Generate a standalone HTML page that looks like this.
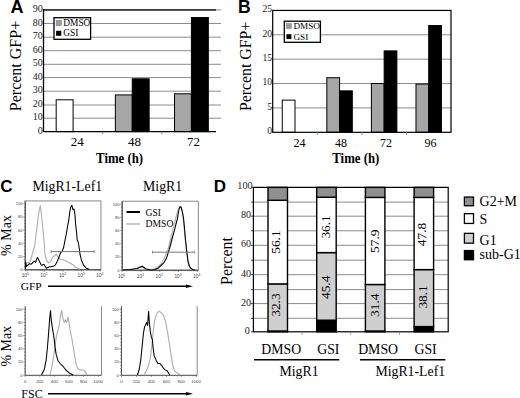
<!DOCTYPE html>
<html><head><meta charset="utf-8"><style>
html,body{margin:0;padding:0;background:#fff;overflow:hidden;}
svg{display:block;}
</style></head><body>
<svg width="520" height="398" viewBox="0 0 520 398">
<rect width="520" height="398" fill="#fff"/>
<text x="10.6" y="12.7" font-family="&quot;Liberation Sans&quot;, sans-serif" font-weight="bold" font-size="18">A</text>
<line x1="43.5" y1="118.20" x2="221.0" y2="118.20" stroke="#8c8c8c" stroke-width="1"/>
<line x1="43.5" y1="105.00" x2="221.0" y2="105.00" stroke="#8c8c8c" stroke-width="1"/>
<line x1="43.5" y1="91.20" x2="221.0" y2="91.20" stroke="#8c8c8c" stroke-width="1"/>
<line x1="43.5" y1="77.60" x2="221.0" y2="77.60" stroke="#8c8c8c" stroke-width="1"/>
<line x1="43.5" y1="64.30" x2="221.0" y2="64.30" stroke="#8c8c8c" stroke-width="1"/>
<line x1="43.5" y1="50.70" x2="221.0" y2="50.70" stroke="#8c8c8c" stroke-width="1"/>
<line x1="43.5" y1="37.20" x2="221.0" y2="37.20" stroke="#8c8c8c" stroke-width="1"/>
<line x1="43.5" y1="23.50" x2="221.0" y2="23.50" stroke="#8c8c8c" stroke-width="1"/>
<line x1="43.5" y1="9.90" x2="221.0" y2="9.90" stroke="#8c8c8c" stroke-width="1"/>
<line x1="43.5" y1="9.90" x2="216.0" y2="9.90" stroke="#383838" stroke-width="1.7"/>
<rect x="56.18" y="99.80" width="16.90" height="31.80" fill="#fff" stroke="#000" stroke-width="1"/>
<rect x="115.35" y="94.90" width="16.90" height="36.70" fill="#a6a6a6" stroke="#000" stroke-width="1"/>
<rect x="132.25" y="78.80" width="16.90" height="52.80" fill="#000" stroke="#000" stroke-width="1"/>
<rect x="174.51" y="93.80" width="16.90" height="37.80" fill="#a6a6a6" stroke="#000" stroke-width="1"/>
<rect x="191.42" y="17.50" width="16.90" height="114.10" fill="#000" stroke="#000" stroke-width="1"/>
<line x1="43.5" y1="9.10" x2="43.5" y2="132.10" stroke="#000" stroke-width="1.3"/>
<line x1="43.5" y1="131.60" x2="216.0" y2="131.60" stroke="#000" stroke-width="1.3"/>
<line x1="102.67" y1="131.60" x2="102.67" y2="134.10" stroke="#888" stroke-width="1"/>
<line x1="161.83" y1="131.60" x2="161.83" y2="134.10" stroke="#888" stroke-width="1"/>
<text x="42.8" y="133.60" font-family="&quot;Liberation Serif&quot;, serif" font-size="10" text-anchor="end" fill="#222">0</text>
<text x="42.8" y="120.20" font-family="&quot;Liberation Serif&quot;, serif" font-size="10" text-anchor="end" fill="#222">10</text>
<text x="42.8" y="107.00" font-family="&quot;Liberation Serif&quot;, serif" font-size="10" text-anchor="end" fill="#222">20</text>
<text x="42.8" y="93.20" font-family="&quot;Liberation Serif&quot;, serif" font-size="10" text-anchor="end" fill="#222">30</text>
<text x="42.8" y="79.60" font-family="&quot;Liberation Serif&quot;, serif" font-size="10" text-anchor="end" fill="#222">40</text>
<text x="42.8" y="66.30" font-family="&quot;Liberation Serif&quot;, serif" font-size="10" text-anchor="end" fill="#222">50</text>
<text x="42.8" y="52.70" font-family="&quot;Liberation Serif&quot;, serif" font-size="10" text-anchor="end" fill="#222">60</text>
<text x="42.8" y="39.20" font-family="&quot;Liberation Serif&quot;, serif" font-size="10" text-anchor="end" fill="#222">70</text>
<text x="42.8" y="25.50" font-family="&quot;Liberation Serif&quot;, serif" font-size="10" text-anchor="end" fill="#222">80</text>
<text x="42.8" y="11.90" font-family="&quot;Liberation Serif&quot;, serif" font-size="10" text-anchor="end" fill="#222">90</text>
<text x="77.2" y="146" font-family="&quot;Liberation Serif&quot;, serif" font-size="13" text-anchor="middle">24</text>
<text x="134.5" y="146" font-family="&quot;Liberation Serif&quot;, serif" font-size="13" text-anchor="middle">48</text>
<text x="193.5" y="146" font-family="&quot;Liberation Serif&quot;, serif" font-size="13" text-anchor="middle">72</text>
<text x="119.6" y="163" font-family="&quot;Liberation Serif&quot;, serif" font-size="14" font-weight="bold" text-anchor="middle" textLength="47" lengthAdjust="spacingAndGlyphs">Time (h)</text>
<text transform="translate(21,66) rotate(-90)" font-family="&quot;Liberation Serif&quot;, serif" font-size="16" text-anchor="middle">Percent GFP+</text>
<rect x="54.0" y="17.7" width="36.6" height="21.6" fill="#fff" stroke="#000" stroke-width="1.3"/>
<rect x="56.1" y="20.4" width="5.2" height="5.3" fill="#9c9c9c" stroke="#777" stroke-width="0.5"/>
<rect x="56.1" y="30.8" width="5.2" height="5.0" fill="#000"/>
<text x="63.3" y="25.8" font-family="&quot;Liberation Serif&quot;, serif" font-size="9.4">DMSO</text>
<text x="63.3" y="36.4" font-family="&quot;Liberation Serif&quot;, serif" font-size="9.4">GSI</text>
<text x="238.0" y="12.6" font-family="&quot;Liberation Sans&quot;, sans-serif" font-weight="bold" font-size="17.5">B</text>
<line x1="272.7" y1="107.93" x2="451.0" y2="107.93" stroke="#8c8c8c" stroke-width="1"/>
<line x1="272.7" y1="83.55" x2="451.0" y2="83.55" stroke="#8c8c8c" stroke-width="1"/>
<line x1="272.7" y1="59.18" x2="451.0" y2="59.18" stroke="#8c8c8c" stroke-width="1"/>
<line x1="272.7" y1="34.80" x2="451.0" y2="34.80" stroke="#8c8c8c" stroke-width="1"/>
<rect x="282.25" y="100.13" width="12.74" height="32.17" fill="#fff" stroke="#000" stroke-width="1"/>
<rect x="326.83" y="77.70" width="12.74" height="54.60" fill="#a6a6a6" stroke="#000" stroke-width="1"/>
<rect x="339.56" y="90.86" width="12.74" height="41.44" fill="#000" stroke="#000" stroke-width="1"/>
<rect x="371.40" y="83.55" width="12.74" height="48.75" fill="#a6a6a6" stroke="#000" stroke-width="1"/>
<rect x="384.14" y="50.89" width="12.74" height="81.41" fill="#000" stroke="#000" stroke-width="1"/>
<rect x="415.98" y="84.04" width="12.74" height="48.26" fill="#a6a6a6" stroke="#000" stroke-width="1"/>
<rect x="428.71" y="25.54" width="12.74" height="106.76" fill="#000" stroke="#000" stroke-width="1"/>
<rect x="272.7" y="10.43" width="178.30" height="121.88" fill="none" stroke="#000" stroke-width="1.2"/>
<line x1="317.27" y1="132.30" x2="317.27" y2="134.80" stroke="#888" stroke-width="1"/>
<line x1="361.85" y1="132.30" x2="361.85" y2="134.80" stroke="#888" stroke-width="1"/>
<line x1="406.43" y1="132.30" x2="406.43" y2="134.80" stroke="#888" stroke-width="1"/>
<text x="272.1" y="134.20" font-family="&quot;Liberation Serif&quot;, serif" font-size="9.7" text-anchor="end" fill="#222">0</text>
<text x="272.1" y="109.83" font-family="&quot;Liberation Serif&quot;, serif" font-size="9.7" text-anchor="end" fill="#222">5</text>
<text x="272.1" y="85.45" font-family="&quot;Liberation Serif&quot;, serif" font-size="9.7" text-anchor="end" fill="#222">10</text>
<text x="272.1" y="61.08" font-family="&quot;Liberation Serif&quot;, serif" font-size="9.7" text-anchor="end" fill="#222">15</text>
<text x="272.1" y="36.70" font-family="&quot;Liberation Serif&quot;, serif" font-size="9.7" text-anchor="end" fill="#222">20</text>
<text x="272.1" y="12.33" font-family="&quot;Liberation Serif&quot;, serif" font-size="9.7" text-anchor="end" fill="#222">25</text>
<text x="299.4" y="146.5" font-family="&quot;Liberation Serif&quot;, serif" font-size="12" text-anchor="middle">24</text>
<text x="340.9" y="146.5" font-family="&quot;Liberation Serif&quot;, serif" font-size="12" text-anchor="middle">48</text>
<text x="386" y="146.5" font-family="&quot;Liberation Serif&quot;, serif" font-size="12" text-anchor="middle">72</text>
<text x="430.4" y="146.5" font-family="&quot;Liberation Serif&quot;, serif" font-size="12" text-anchor="middle">96</text>
<text x="355.8" y="162.6" font-family="&quot;Liberation Serif&quot;, serif" font-size="14" font-weight="bold" text-anchor="middle" textLength="47" lengthAdjust="spacingAndGlyphs">Time (h)</text>
<text transform="translate(250.5,66.4) rotate(-90)" font-family="&quot;Liberation Serif&quot;, serif" font-size="15.8" text-anchor="middle">Percent GFP+</text>
<rect x="284.3" y="21.2" width="36.1" height="21.1" fill="#fff" stroke="#000" stroke-width="1.3"/>
<rect x="286.4" y="23.6" width="5" height="5.1" fill="#9c9c9c" stroke="#777" stroke-width="0.5"/>
<rect x="286.4" y="34.2" width="5" height="4.9" fill="#000"/>
<text x="293.4" y="28.9" font-family="&quot;Liberation Serif&quot;, serif" font-size="9.2">DMSO</text>
<text x="293.4" y="39.6" font-family="&quot;Liberation Serif&quot;, serif" font-size="9.2">GSI</text>
<text x="213.8" y="191.8" font-family="&quot;Liberation Sans&quot;, sans-serif" font-weight="bold" font-size="17">D</text>
<line x1="253.4" y1="318.30" x2="448.2" y2="318.30" stroke="#8c8c8c" stroke-width="1"/>
<line x1="253.4" y1="303.60" x2="448.2" y2="303.60" stroke="#8c8c8c" stroke-width="1"/>
<line x1="253.4" y1="289.60" x2="448.2" y2="289.60" stroke="#8c8c8c" stroke-width="1"/>
<line x1="253.4" y1="274.70" x2="448.2" y2="274.70" stroke="#8c8c8c" stroke-width="1"/>
<line x1="253.4" y1="260.20" x2="448.2" y2="260.20" stroke="#8c8c8c" stroke-width="1"/>
<line x1="253.4" y1="245.30" x2="448.2" y2="245.30" stroke="#8c8c8c" stroke-width="1"/>
<line x1="253.4" y1="230.80" x2="448.2" y2="230.80" stroke="#8c8c8c" stroke-width="1"/>
<line x1="253.4" y1="216.20" x2="448.2" y2="216.20" stroke="#8c8c8c" stroke-width="1"/>
<line x1="253.4" y1="202.10" x2="448.2" y2="202.10" stroke="#8c8c8c" stroke-width="1"/>
<line x1="253.4" y1="187.40" x2="448.2" y2="187.40" stroke="#8c8c8c" stroke-width="1"/>
<rect x="268.01" y="331.00" width="19.48" height="0.80" fill="#000" stroke="#000" stroke-width="1.4"/>
<rect x="268.01" y="283.90" width="19.48" height="47.10" fill="#cfcfcf" stroke="#000" stroke-width="1.4"/>
<rect x="268.01" y="200.30" width="19.48" height="83.60" fill="#fff" stroke="#000" stroke-width="1.4"/>
<rect x="268.01" y="187.40" width="19.48" height="12.90" fill="#909090" stroke="#000" stroke-width="1.4"/>
<text transform="translate(280.15,305.10) rotate(-90)" font-family="&quot;Liberation Serif&quot;, serif" font-size="13.4" text-anchor="middle">32.3</text>
<text transform="translate(279.95,242.10) rotate(-90)" font-family="&quot;Liberation Serif&quot;, serif" font-size="13.4" text-anchor="middle">56.1</text>
<rect x="316.71" y="320.20" width="19.48" height="11.60" fill="#000" stroke="#000" stroke-width="1.4"/>
<rect x="316.71" y="252.60" width="19.48" height="67.60" fill="#cfcfcf" stroke="#000" stroke-width="1.4"/>
<rect x="316.71" y="197.20" width="19.48" height="55.40" fill="#fff" stroke="#000" stroke-width="1.4"/>
<rect x="316.71" y="187.40" width="19.48" height="9.80" fill="#909090" stroke="#000" stroke-width="1.4"/>
<text transform="translate(329.65,287.30) rotate(-90)" font-family="&quot;Liberation Serif&quot;, serif" font-size="13.4" text-anchor="middle">45.4</text>
<text transform="translate(329.65,226.90) rotate(-90)" font-family="&quot;Liberation Serif&quot;, serif" font-size="13.4" text-anchor="middle">36.1</text>
<rect x="365.41" y="331.00" width="19.48" height="0.80" fill="#000" stroke="#000" stroke-width="1.4"/>
<rect x="365.41" y="284.50" width="19.48" height="46.50" fill="#cfcfcf" stroke="#000" stroke-width="1.4"/>
<rect x="365.41" y="197.40" width="19.48" height="87.10" fill="#fff" stroke="#000" stroke-width="1.4"/>
<rect x="365.41" y="187.40" width="19.48" height="10.00" fill="#909090" stroke="#000" stroke-width="1.4"/>
<text transform="translate(378.65,305.20) rotate(-90)" font-family="&quot;Liberation Serif&quot;, serif" font-size="13.4" text-anchor="middle">31.4</text>
<text transform="translate(378.85,241.25) rotate(-90)" font-family="&quot;Liberation Serif&quot;, serif" font-size="13.4" text-anchor="middle">57.9</text>
<rect x="414.11" y="326.60" width="19.48" height="5.20" fill="#000" stroke="#000" stroke-width="1.4"/>
<rect x="414.11" y="269.60" width="19.48" height="57.00" fill="#cfcfcf" stroke="#000" stroke-width="1.4"/>
<rect x="414.11" y="197.40" width="19.48" height="72.20" fill="#fff" stroke="#000" stroke-width="1.4"/>
<rect x="414.11" y="187.40" width="19.48" height="10.00" fill="#909090" stroke="#000" stroke-width="1.4"/>
<text transform="translate(426.65,296.90) rotate(-90)" font-family="&quot;Liberation Serif&quot;, serif" font-size="13.4" text-anchor="middle">38.1</text>
<text transform="translate(426.35,234.50) rotate(-90)" font-family="&quot;Liberation Serif&quot;, serif" font-size="13.4" text-anchor="middle">47.8</text>
<rect x="253.4" y="187.40" width="194.80" height="144.40" fill="none" stroke="#000" stroke-width="1.2"/>
<line x1="302.10" y1="331.80" x2="302.10" y2="334.30" stroke="#888" stroke-width="1"/>
<line x1="350.80" y1="331.80" x2="350.80" y2="334.30" stroke="#888" stroke-width="1"/>
<line x1="399.50" y1="331.80" x2="399.50" y2="334.30" stroke="#888" stroke-width="1"/>
<text x="249.8" y="333.80" font-family="&quot;Liberation Serif&quot;, serif" font-size="10.2" text-anchor="end" fill="#222">0</text>
<text x="251.1" y="305.60" font-family="&quot;Liberation Serif&quot;, serif" font-size="10.2" text-anchor="end" fill="#222">20</text>
<text x="251.1" y="276.70" font-family="&quot;Liberation Serif&quot;, serif" font-size="10.2" text-anchor="end" fill="#222">40</text>
<text x="251.1" y="247.30" font-family="&quot;Liberation Serif&quot;, serif" font-size="10.2" text-anchor="end" fill="#222">60</text>
<text x="251.1" y="218.20" font-family="&quot;Liberation Serif&quot;, serif" font-size="10.2" text-anchor="end" fill="#222">80</text>
<text x="252.6" y="189.40" font-family="&quot;Liberation Serif&quot;, serif" font-size="10.2" text-anchor="end" fill="#222">100</text>
<line x1="251.1" y1="331.80" x2="253.4" y2="331.80" stroke="#333" stroke-width="1"/>
<line x1="251.1" y1="318.30" x2="253.4" y2="318.30" stroke="#333" stroke-width="1"/>
<line x1="251.1" y1="303.60" x2="253.4" y2="303.60" stroke="#333" stroke-width="1"/>
<line x1="251.1" y1="289.60" x2="253.4" y2="289.60" stroke="#333" stroke-width="1"/>
<line x1="251.1" y1="274.70" x2="253.4" y2="274.70" stroke="#333" stroke-width="1"/>
<line x1="251.1" y1="260.20" x2="253.4" y2="260.20" stroke="#333" stroke-width="1"/>
<line x1="251.1" y1="245.30" x2="253.4" y2="245.30" stroke="#333" stroke-width="1"/>
<line x1="251.1" y1="230.80" x2="253.4" y2="230.80" stroke="#333" stroke-width="1"/>
<line x1="251.1" y1="216.20" x2="253.4" y2="216.20" stroke="#333" stroke-width="1"/>
<line x1="251.1" y1="202.10" x2="253.4" y2="202.10" stroke="#333" stroke-width="1"/>
<line x1="251.1" y1="187.40" x2="253.4" y2="187.40" stroke="#333" stroke-width="1"/>
<text transform="translate(232,261) rotate(-90)" font-family="&quot;Liberation Serif&quot;, serif" font-size="16" text-anchor="middle">Percent</text>
<rect x="464.4" y="197.05" width="9.1" height="8.70" fill="#909090" stroke="#000" stroke-width="1.3"/>
<text x="479.6" y="206.20" font-family="&quot;Liberation Serif&quot;, serif" font-size="14">G2+M</text>
<rect x="464.4" y="213.65" width="9.1" height="9.80" fill="#fff" stroke="#000" stroke-width="1.3"/>
<text x="479.6" y="223.70" font-family="&quot;Liberation Serif&quot;, serif" font-size="14">S</text>
<rect x="464.4" y="233.35" width="9.1" height="9.80" fill="#cfcfcf" stroke="#000" stroke-width="1.3"/>
<text x="479.6" y="244.80" font-family="&quot;Liberation Serif&quot;, serif" font-size="14">G1</text>
<rect x="464.4" y="250.55" width="9.1" height="9.20" fill="#000" stroke="#000" stroke-width="1.3"/>
<text x="479.6" y="258.80" font-family="&quot;Liberation Serif&quot;, serif" font-size="14">sub-G1</text>
<text x="281.2" y="353.7" font-family="&quot;Liberation Serif&quot;, serif" font-size="13.8" text-anchor="middle">DMSO</text>
<text x="328.3" y="353.7" font-family="&quot;Liberation Serif&quot;, serif" font-size="13.8" text-anchor="middle">GSI</text>
<text x="378.1" y="353.7" font-family="&quot;Liberation Serif&quot;, serif" font-size="13.8" text-anchor="middle">DMSO</text>
<text x="425.6" y="353.7" font-family="&quot;Liberation Serif&quot;, serif" font-size="13.8" text-anchor="middle">GSI</text>
<line x1="254" y1="359.7" x2="339.3" y2="359.7" stroke="#000" stroke-width="1.5"/>
<line x1="360" y1="359.7" x2="445.4" y2="359.7" stroke="#000" stroke-width="1.5"/>
<text x="299" y="375.7" font-family="&quot;Liberation Serif&quot;, serif" font-size="13.8" text-anchor="middle">MigR1</text>
<text x="410.3" y="375.7" font-family="&quot;Liberation Serif&quot;, serif" font-size="13.8" text-anchor="middle">MigR1-Lef1</text>
<text x="0.3" y="192.3" font-family="&quot;Liberation Sans&quot;, sans-serif" font-weight="bold" font-size="17">C</text>
<text x="32.4" y="190.8" font-family="&quot;Liberation Serif&quot;, serif" font-size="13.8">MigR1-Lef1</text>
<text x="143.1" y="190.8" font-family="&quot;Liberation Serif&quot;, serif" font-size="13.8">MigR1</text>
<text transform="translate(11.2,235.5) rotate(-90)" font-family="&quot;Liberation Serif&quot;, serif" font-size="14" text-anchor="middle">% Max</text>
<text transform="translate(11,346.2) rotate(-90)" font-family="&quot;Liberation Serif&quot;, serif" font-size="14" text-anchor="middle">% Max</text>
<text x="20.8" y="290" font-family="&quot;Liberation Serif&quot;, serif" font-size="11.4">GFP</text>
<text x="21.3" y="397.6" font-family="&quot;Liberation Serif&quot;, serif" font-size="12">FSC</text>
<line x1="48" y1="286.3" x2="187" y2="286.3" stroke="#000" stroke-width="1.6"/>
<path d="M186 284.5 L193 286.3 L186 288.1 Z" fill="#000"/>
<line x1="48" y1="393.7" x2="187" y2="393.7" stroke="#000" stroke-width="1.6"/>
<path d="M186 391.9 L193 393.7 L186 395.5 Z" fill="#000"/>
<rect x="25.2" y="200.9" width="75.7" height="68.9" fill="none" stroke="#8a8a8a" stroke-width="1"/>
<line x1="25.2" y1="200.9" x2="25.2" y2="269.8" stroke="#333" stroke-width="0.9"/>
<line x1="25.2" y1="269.8" x2="100.9" y2="269.8" stroke="#333" stroke-width="0.9"/>
<line x1="23.2" y1="269.80" x2="25.2" y2="269.80" stroke="#555" stroke-width="0.6"/>
<text x="22.599999999999998" y="271.20" font-family="&quot;Liberation Sans&quot;, sans-serif" font-size="4.1" text-anchor="end" fill="#444">0</text>
<line x1="24.0" y1="266.50" x2="25.2" y2="266.50" stroke="#555" stroke-width="0.6"/>
<line x1="24.0" y1="263.20" x2="25.2" y2="263.20" stroke="#555" stroke-width="0.6"/>
<line x1="24.0" y1="259.90" x2="25.2" y2="259.90" stroke="#555" stroke-width="0.6"/>
<line x1="23.2" y1="256.60" x2="25.2" y2="256.60" stroke="#555" stroke-width="0.6"/>
<text x="22.599999999999998" y="258.00" font-family="&quot;Liberation Sans&quot;, sans-serif" font-size="4.1" text-anchor="end" fill="#444">20</text>
<line x1="24.0" y1="253.30" x2="25.2" y2="253.30" stroke="#555" stroke-width="0.6"/>
<line x1="24.0" y1="250.00" x2="25.2" y2="250.00" stroke="#555" stroke-width="0.6"/>
<line x1="24.0" y1="246.70" x2="25.2" y2="246.70" stroke="#555" stroke-width="0.6"/>
<line x1="23.2" y1="243.40" x2="25.2" y2="243.40" stroke="#555" stroke-width="0.6"/>
<text x="22.599999999999998" y="244.80" font-family="&quot;Liberation Sans&quot;, sans-serif" font-size="4.1" text-anchor="end" fill="#444">40</text>
<line x1="24.0" y1="240.10" x2="25.2" y2="240.10" stroke="#555" stroke-width="0.6"/>
<line x1="24.0" y1="236.80" x2="25.2" y2="236.80" stroke="#555" stroke-width="0.6"/>
<line x1="24.0" y1="233.50" x2="25.2" y2="233.50" stroke="#555" stroke-width="0.6"/>
<line x1="23.2" y1="230.20" x2="25.2" y2="230.20" stroke="#555" stroke-width="0.6"/>
<text x="22.599999999999998" y="231.60" font-family="&quot;Liberation Sans&quot;, sans-serif" font-size="4.1" text-anchor="end" fill="#444">60</text>
<line x1="24.0" y1="226.90" x2="25.2" y2="226.90" stroke="#555" stroke-width="0.6"/>
<line x1="24.0" y1="223.60" x2="25.2" y2="223.60" stroke="#555" stroke-width="0.6"/>
<line x1="24.0" y1="220.30" x2="25.2" y2="220.30" stroke="#555" stroke-width="0.6"/>
<line x1="23.2" y1="217.00" x2="25.2" y2="217.00" stroke="#555" stroke-width="0.6"/>
<text x="22.599999999999998" y="218.40" font-family="&quot;Liberation Sans&quot;, sans-serif" font-size="4.1" text-anchor="end" fill="#444">80</text>
<line x1="24.0" y1="213.70" x2="25.2" y2="213.70" stroke="#555" stroke-width="0.6"/>
<line x1="24.0" y1="210.40" x2="25.2" y2="210.40" stroke="#555" stroke-width="0.6"/>
<line x1="24.0" y1="207.10" x2="25.2" y2="207.10" stroke="#555" stroke-width="0.6"/>
<line x1="23.2" y1="203.80" x2="25.2" y2="203.80" stroke="#555" stroke-width="0.6"/>
<text x="22.599999999999998" y="205.20" font-family="&quot;Liberation Sans&quot;, sans-serif" font-size="4.1" text-anchor="end" fill="#444">100</text>
<line x1="25.90" y1="269.8" x2="25.90" y2="271.6" stroke="#555" stroke-width="0.6"/>
<text x="25.30" y="277.2" font-family="&quot;Liberation Sans&quot;, sans-serif" font-size="4.8" text-anchor="middle" fill="#444">10<tspan font-size="3.4" dy="-1.8">0</tspan></text>
<line x1="31.50" y1="269.8" x2="31.50" y2="270.90000000000003" stroke="#666" stroke-width="0.5"/>
<line x1="34.77" y1="269.8" x2="34.77" y2="270.90000000000003" stroke="#666" stroke-width="0.5"/>
<line x1="37.10" y1="269.8" x2="37.10" y2="270.90000000000003" stroke="#666" stroke-width="0.5"/>
<line x1="38.90" y1="269.8" x2="38.90" y2="270.90000000000003" stroke="#666" stroke-width="0.5"/>
<line x1="40.37" y1="269.8" x2="40.37" y2="270.90000000000003" stroke="#666" stroke-width="0.5"/>
<line x1="41.62" y1="269.8" x2="41.62" y2="270.90000000000003" stroke="#666" stroke-width="0.5"/>
<line x1="42.70" y1="269.8" x2="42.70" y2="270.90000000000003" stroke="#666" stroke-width="0.5"/>
<line x1="43.65" y1="269.8" x2="43.65" y2="270.90000000000003" stroke="#666" stroke-width="0.5"/>
<line x1="44.50" y1="269.8" x2="44.50" y2="271.6" stroke="#555" stroke-width="0.6"/>
<text x="43.90" y="277.2" font-family="&quot;Liberation Sans&quot;, sans-serif" font-size="4.8" text-anchor="middle" fill="#444">10<tspan font-size="3.4" dy="-1.8">1</tspan></text>
<line x1="50.10" y1="269.8" x2="50.10" y2="270.90000000000003" stroke="#666" stroke-width="0.5"/>
<line x1="53.37" y1="269.8" x2="53.37" y2="270.90000000000003" stroke="#666" stroke-width="0.5"/>
<line x1="55.70" y1="269.8" x2="55.70" y2="270.90000000000003" stroke="#666" stroke-width="0.5"/>
<line x1="57.50" y1="269.8" x2="57.50" y2="270.90000000000003" stroke="#666" stroke-width="0.5"/>
<line x1="58.97" y1="269.8" x2="58.97" y2="270.90000000000003" stroke="#666" stroke-width="0.5"/>
<line x1="60.22" y1="269.8" x2="60.22" y2="270.90000000000003" stroke="#666" stroke-width="0.5"/>
<line x1="61.30" y1="269.8" x2="61.30" y2="270.90000000000003" stroke="#666" stroke-width="0.5"/>
<line x1="62.25" y1="269.8" x2="62.25" y2="270.90000000000003" stroke="#666" stroke-width="0.5"/>
<line x1="63.10" y1="269.8" x2="63.10" y2="271.6" stroke="#555" stroke-width="0.6"/>
<text x="62.50" y="277.2" font-family="&quot;Liberation Sans&quot;, sans-serif" font-size="4.8" text-anchor="middle" fill="#444">10<tspan font-size="3.4" dy="-1.8">2</tspan></text>
<line x1="68.70" y1="269.8" x2="68.70" y2="270.90000000000003" stroke="#666" stroke-width="0.5"/>
<line x1="71.97" y1="269.8" x2="71.97" y2="270.90000000000003" stroke="#666" stroke-width="0.5"/>
<line x1="74.30" y1="269.8" x2="74.30" y2="270.90000000000003" stroke="#666" stroke-width="0.5"/>
<line x1="76.10" y1="269.8" x2="76.10" y2="270.90000000000003" stroke="#666" stroke-width="0.5"/>
<line x1="77.57" y1="269.8" x2="77.57" y2="270.90000000000003" stroke="#666" stroke-width="0.5"/>
<line x1="78.82" y1="269.8" x2="78.82" y2="270.90000000000003" stroke="#666" stroke-width="0.5"/>
<line x1="79.90" y1="269.8" x2="79.90" y2="270.90000000000003" stroke="#666" stroke-width="0.5"/>
<line x1="80.85" y1="269.8" x2="80.85" y2="270.90000000000003" stroke="#666" stroke-width="0.5"/>
<line x1="81.70" y1="269.8" x2="81.70" y2="271.6" stroke="#555" stroke-width="0.6"/>
<text x="81.10" y="277.2" font-family="&quot;Liberation Sans&quot;, sans-serif" font-size="4.8" text-anchor="middle" fill="#444">10<tspan font-size="3.4" dy="-1.8">3</tspan></text>
<line x1="87.30" y1="269.8" x2="87.30" y2="270.90000000000003" stroke="#666" stroke-width="0.5"/>
<line x1="90.57" y1="269.8" x2="90.57" y2="270.90000000000003" stroke="#666" stroke-width="0.5"/>
<line x1="92.90" y1="269.8" x2="92.90" y2="270.90000000000003" stroke="#666" stroke-width="0.5"/>
<line x1="94.70" y1="269.8" x2="94.70" y2="270.90000000000003" stroke="#666" stroke-width="0.5"/>
<line x1="96.17" y1="269.8" x2="96.17" y2="270.90000000000003" stroke="#666" stroke-width="0.5"/>
<line x1="97.42" y1="269.8" x2="97.42" y2="270.90000000000003" stroke="#666" stroke-width="0.5"/>
<line x1="98.50" y1="269.8" x2="98.50" y2="270.90000000000003" stroke="#666" stroke-width="0.5"/>
<line x1="99.45" y1="269.8" x2="99.45" y2="270.90000000000003" stroke="#666" stroke-width="0.5"/>
<line x1="100.30" y1="269.8" x2="100.30" y2="271.6" stroke="#555" stroke-width="0.6"/>
<text x="99.70" y="277.2" font-family="&quot;Liberation Sans&quot;, sans-serif" font-size="4.8" text-anchor="middle" fill="#444">10<tspan font-size="3.4" dy="-1.8">4</tspan></text>
<rect x="122.2" y="201.2" width="76.10000000000001" height="69.0" fill="none" stroke="#8a8a8a" stroke-width="1"/>
<line x1="122.2" y1="201.2" x2="122.2" y2="270.2" stroke="#333" stroke-width="0.9"/>
<line x1="122.2" y1="270.2" x2="198.3" y2="270.2" stroke="#333" stroke-width="0.9"/>
<line x1="120.2" y1="270.20" x2="122.2" y2="270.20" stroke="#555" stroke-width="0.6"/>
<text x="119.60000000000001" y="271.60" font-family="&quot;Liberation Sans&quot;, sans-serif" font-size="4.1" text-anchor="end" fill="#444">0</text>
<line x1="121.0" y1="266.89" x2="122.2" y2="266.89" stroke="#555" stroke-width="0.6"/>
<line x1="121.0" y1="263.59" x2="122.2" y2="263.59" stroke="#555" stroke-width="0.6"/>
<line x1="121.0" y1="260.28" x2="122.2" y2="260.28" stroke="#555" stroke-width="0.6"/>
<line x1="120.2" y1="256.98" x2="122.2" y2="256.98" stroke="#555" stroke-width="0.6"/>
<text x="119.60000000000001" y="258.38" font-family="&quot;Liberation Sans&quot;, sans-serif" font-size="4.1" text-anchor="end" fill="#444">20</text>
<line x1="121.0" y1="253.67" x2="122.2" y2="253.67" stroke="#555" stroke-width="0.6"/>
<line x1="121.0" y1="250.37" x2="122.2" y2="250.37" stroke="#555" stroke-width="0.6"/>
<line x1="121.0" y1="247.06" x2="122.2" y2="247.06" stroke="#555" stroke-width="0.6"/>
<line x1="120.2" y1="243.76" x2="122.2" y2="243.76" stroke="#555" stroke-width="0.6"/>
<text x="119.60000000000001" y="245.16" font-family="&quot;Liberation Sans&quot;, sans-serif" font-size="4.1" text-anchor="end" fill="#444">40</text>
<line x1="121.0" y1="240.45" x2="122.2" y2="240.45" stroke="#555" stroke-width="0.6"/>
<line x1="121.0" y1="237.15" x2="122.2" y2="237.15" stroke="#555" stroke-width="0.6"/>
<line x1="121.0" y1="233.84" x2="122.2" y2="233.84" stroke="#555" stroke-width="0.6"/>
<line x1="120.2" y1="230.54" x2="122.2" y2="230.54" stroke="#555" stroke-width="0.6"/>
<text x="119.60000000000001" y="231.94" font-family="&quot;Liberation Sans&quot;, sans-serif" font-size="4.1" text-anchor="end" fill="#444">60</text>
<line x1="121.0" y1="227.23" x2="122.2" y2="227.23" stroke="#555" stroke-width="0.6"/>
<line x1="121.0" y1="223.93" x2="122.2" y2="223.93" stroke="#555" stroke-width="0.6"/>
<line x1="121.0" y1="220.62" x2="122.2" y2="220.62" stroke="#555" stroke-width="0.6"/>
<line x1="120.2" y1="217.32" x2="122.2" y2="217.32" stroke="#555" stroke-width="0.6"/>
<text x="119.60000000000001" y="218.72" font-family="&quot;Liberation Sans&quot;, sans-serif" font-size="4.1" text-anchor="end" fill="#444">80</text>
<line x1="121.0" y1="214.01" x2="122.2" y2="214.01" stroke="#555" stroke-width="0.6"/>
<line x1="121.0" y1="210.71" x2="122.2" y2="210.71" stroke="#555" stroke-width="0.6"/>
<line x1="121.0" y1="207.41" x2="122.2" y2="207.41" stroke="#555" stroke-width="0.6"/>
<line x1="120.2" y1="204.10" x2="122.2" y2="204.10" stroke="#555" stroke-width="0.6"/>
<text x="119.60000000000001" y="205.50" font-family="&quot;Liberation Sans&quot;, sans-serif" font-size="4.1" text-anchor="end" fill="#444">100</text>
<line x1="122.20" y1="270.2" x2="122.20" y2="272.0" stroke="#555" stroke-width="0.6"/>
<text x="121.60" y="277.59999999999997" font-family="&quot;Liberation Sans&quot;, sans-serif" font-size="4.8" text-anchor="middle" fill="#444">10<tspan font-size="3.4" dy="-1.8">0</tspan></text>
<line x1="127.86" y1="270.2" x2="127.86" y2="271.3" stroke="#666" stroke-width="0.5"/>
<line x1="131.17" y1="270.2" x2="131.17" y2="271.3" stroke="#666" stroke-width="0.5"/>
<line x1="133.52" y1="270.2" x2="133.52" y2="271.3" stroke="#666" stroke-width="0.5"/>
<line x1="135.34" y1="270.2" x2="135.34" y2="271.3" stroke="#666" stroke-width="0.5"/>
<line x1="136.83" y1="270.2" x2="136.83" y2="271.3" stroke="#666" stroke-width="0.5"/>
<line x1="138.09" y1="270.2" x2="138.09" y2="271.3" stroke="#666" stroke-width="0.5"/>
<line x1="139.18" y1="270.2" x2="139.18" y2="271.3" stroke="#666" stroke-width="0.5"/>
<line x1="140.14" y1="270.2" x2="140.14" y2="271.3" stroke="#666" stroke-width="0.5"/>
<line x1="141.00" y1="270.2" x2="141.00" y2="272.0" stroke="#555" stroke-width="0.6"/>
<text x="140.40" y="277.59999999999997" font-family="&quot;Liberation Sans&quot;, sans-serif" font-size="4.8" text-anchor="middle" fill="#444">10<tspan font-size="3.4" dy="-1.8">1</tspan></text>
<line x1="146.66" y1="270.2" x2="146.66" y2="271.3" stroke="#666" stroke-width="0.5"/>
<line x1="149.97" y1="270.2" x2="149.97" y2="271.3" stroke="#666" stroke-width="0.5"/>
<line x1="152.32" y1="270.2" x2="152.32" y2="271.3" stroke="#666" stroke-width="0.5"/>
<line x1="154.14" y1="270.2" x2="154.14" y2="271.3" stroke="#666" stroke-width="0.5"/>
<line x1="155.63" y1="270.2" x2="155.63" y2="271.3" stroke="#666" stroke-width="0.5"/>
<line x1="156.89" y1="270.2" x2="156.89" y2="271.3" stroke="#666" stroke-width="0.5"/>
<line x1="157.98" y1="270.2" x2="157.98" y2="271.3" stroke="#666" stroke-width="0.5"/>
<line x1="158.94" y1="270.2" x2="158.94" y2="271.3" stroke="#666" stroke-width="0.5"/>
<line x1="159.80" y1="270.2" x2="159.80" y2="272.0" stroke="#555" stroke-width="0.6"/>
<text x="159.20" y="277.59999999999997" font-family="&quot;Liberation Sans&quot;, sans-serif" font-size="4.8" text-anchor="middle" fill="#444">10<tspan font-size="3.4" dy="-1.8">2</tspan></text>
<line x1="165.46" y1="270.2" x2="165.46" y2="271.3" stroke="#666" stroke-width="0.5"/>
<line x1="168.77" y1="270.2" x2="168.77" y2="271.3" stroke="#666" stroke-width="0.5"/>
<line x1="171.12" y1="270.2" x2="171.12" y2="271.3" stroke="#666" stroke-width="0.5"/>
<line x1="172.94" y1="270.2" x2="172.94" y2="271.3" stroke="#666" stroke-width="0.5"/>
<line x1="174.43" y1="270.2" x2="174.43" y2="271.3" stroke="#666" stroke-width="0.5"/>
<line x1="175.69" y1="270.2" x2="175.69" y2="271.3" stroke="#666" stroke-width="0.5"/>
<line x1="176.78" y1="270.2" x2="176.78" y2="271.3" stroke="#666" stroke-width="0.5"/>
<line x1="177.74" y1="270.2" x2="177.74" y2="271.3" stroke="#666" stroke-width="0.5"/>
<line x1="178.60" y1="270.2" x2="178.60" y2="272.0" stroke="#555" stroke-width="0.6"/>
<text x="178.00" y="277.59999999999997" font-family="&quot;Liberation Sans&quot;, sans-serif" font-size="4.8" text-anchor="middle" fill="#444">10<tspan font-size="3.4" dy="-1.8">3</tspan></text>
<line x1="184.26" y1="270.2" x2="184.26" y2="271.3" stroke="#666" stroke-width="0.5"/>
<line x1="187.57" y1="270.2" x2="187.57" y2="271.3" stroke="#666" stroke-width="0.5"/>
<line x1="189.92" y1="270.2" x2="189.92" y2="271.3" stroke="#666" stroke-width="0.5"/>
<line x1="191.74" y1="270.2" x2="191.74" y2="271.3" stroke="#666" stroke-width="0.5"/>
<line x1="193.23" y1="270.2" x2="193.23" y2="271.3" stroke="#666" stroke-width="0.5"/>
<line x1="194.49" y1="270.2" x2="194.49" y2="271.3" stroke="#666" stroke-width="0.5"/>
<line x1="195.58" y1="270.2" x2="195.58" y2="271.3" stroke="#666" stroke-width="0.5"/>
<line x1="196.54" y1="270.2" x2="196.54" y2="271.3" stroke="#666" stroke-width="0.5"/>
<line x1="197.40" y1="270.2" x2="197.40" y2="272.0" stroke="#555" stroke-width="0.6"/>
<text x="196.80" y="277.59999999999997" font-family="&quot;Liberation Sans&quot;, sans-serif" font-size="4.8" text-anchor="middle" fill="#444">10<tspan font-size="3.4" dy="-1.8">4</tspan></text>
<line x1="101.5" y1="306.2" x2="101.5" y2="375.3" stroke="#8a8a8a" stroke-width="1"/>
<line x1="25.2" y1="306.2" x2="25.2" y2="375.3" stroke="#333" stroke-width="0.9"/>
<line x1="25.2" y1="375.3" x2="101.5" y2="375.3" stroke="#333" stroke-width="0.9"/>
<line x1="23.2" y1="375.30" x2="25.2" y2="375.30" stroke="#555" stroke-width="0.6"/>
<text x="22.599999999999998" y="376.70" font-family="&quot;Liberation Sans&quot;, sans-serif" font-size="4.1" text-anchor="end" fill="#444">0</text>
<line x1="24.0" y1="371.99" x2="25.2" y2="371.99" stroke="#555" stroke-width="0.6"/>
<line x1="24.0" y1="368.68" x2="25.2" y2="368.68" stroke="#555" stroke-width="0.6"/>
<line x1="24.0" y1="365.37" x2="25.2" y2="365.37" stroke="#555" stroke-width="0.6"/>
<line x1="23.2" y1="362.06" x2="25.2" y2="362.06" stroke="#555" stroke-width="0.6"/>
<text x="22.599999999999998" y="363.46" font-family="&quot;Liberation Sans&quot;, sans-serif" font-size="4.1" text-anchor="end" fill="#444">20</text>
<line x1="24.0" y1="358.75" x2="25.2" y2="358.75" stroke="#555" stroke-width="0.6"/>
<line x1="24.0" y1="355.44" x2="25.2" y2="355.44" stroke="#555" stroke-width="0.6"/>
<line x1="24.0" y1="352.13" x2="25.2" y2="352.13" stroke="#555" stroke-width="0.6"/>
<line x1="23.2" y1="348.82" x2="25.2" y2="348.82" stroke="#555" stroke-width="0.6"/>
<text x="22.599999999999998" y="350.22" font-family="&quot;Liberation Sans&quot;, sans-serif" font-size="4.1" text-anchor="end" fill="#444">40</text>
<line x1="24.0" y1="345.51" x2="25.2" y2="345.51" stroke="#555" stroke-width="0.6"/>
<line x1="24.0" y1="342.20" x2="25.2" y2="342.20" stroke="#555" stroke-width="0.6"/>
<line x1="24.0" y1="338.89" x2="25.2" y2="338.89" stroke="#555" stroke-width="0.6"/>
<line x1="23.2" y1="335.58" x2="25.2" y2="335.58" stroke="#555" stroke-width="0.6"/>
<text x="22.599999999999998" y="336.98" font-family="&quot;Liberation Sans&quot;, sans-serif" font-size="4.1" text-anchor="end" fill="#444">60</text>
<line x1="24.0" y1="332.27" x2="25.2" y2="332.27" stroke="#555" stroke-width="0.6"/>
<line x1="24.0" y1="328.96" x2="25.2" y2="328.96" stroke="#555" stroke-width="0.6"/>
<line x1="24.0" y1="325.65" x2="25.2" y2="325.65" stroke="#555" stroke-width="0.6"/>
<line x1="23.2" y1="322.34" x2="25.2" y2="322.34" stroke="#555" stroke-width="0.6"/>
<text x="22.599999999999998" y="323.74" font-family="&quot;Liberation Sans&quot;, sans-serif" font-size="4.1" text-anchor="end" fill="#444">80</text>
<line x1="24.0" y1="319.03" x2="25.2" y2="319.03" stroke="#555" stroke-width="0.6"/>
<line x1="24.0" y1="315.72" x2="25.2" y2="315.72" stroke="#555" stroke-width="0.6"/>
<line x1="24.0" y1="312.41" x2="25.2" y2="312.41" stroke="#555" stroke-width="0.6"/>
<line x1="23.2" y1="309.10" x2="25.2" y2="309.10" stroke="#555" stroke-width="0.6"/>
<text x="22.599999999999998" y="310.50" font-family="&quot;Liberation Sans&quot;, sans-serif" font-size="4.1" text-anchor="end" fill="#444">100</text>
<line x1="25.20" y1="375.3" x2="25.20" y2="377.1" stroke="#555" stroke-width="0.6"/>
<text x="25.20" y="382.5" font-family="&quot;Liberation Sans&quot;, sans-serif" font-size="4.4" text-anchor="middle" fill="#444">0</text>
<line x1="28.85" y1="375.3" x2="28.85" y2="376.40000000000003" stroke="#666" stroke-width="0.5"/>
<line x1="32.50" y1="375.3" x2="32.50" y2="376.40000000000003" stroke="#666" stroke-width="0.5"/>
<line x1="36.15" y1="375.3" x2="36.15" y2="376.40000000000003" stroke="#666" stroke-width="0.5"/>
<line x1="39.80" y1="375.3" x2="39.80" y2="377.1" stroke="#555" stroke-width="0.6"/>
<text x="39.80" y="382.5" font-family="&quot;Liberation Sans&quot;, sans-serif" font-size="4.4" text-anchor="middle" fill="#444">200</text>
<line x1="43.45" y1="375.3" x2="43.45" y2="376.40000000000003" stroke="#666" stroke-width="0.5"/>
<line x1="47.10" y1="375.3" x2="47.10" y2="376.40000000000003" stroke="#666" stroke-width="0.5"/>
<line x1="50.75" y1="375.3" x2="50.75" y2="376.40000000000003" stroke="#666" stroke-width="0.5"/>
<line x1="54.40" y1="375.3" x2="54.40" y2="377.1" stroke="#555" stroke-width="0.6"/>
<text x="54.40" y="382.5" font-family="&quot;Liberation Sans&quot;, sans-serif" font-size="4.4" text-anchor="middle" fill="#444">400</text>
<line x1="58.05" y1="375.3" x2="58.05" y2="376.40000000000003" stroke="#666" stroke-width="0.5"/>
<line x1="61.70" y1="375.3" x2="61.70" y2="376.40000000000003" stroke="#666" stroke-width="0.5"/>
<line x1="65.35" y1="375.3" x2="65.35" y2="376.40000000000003" stroke="#666" stroke-width="0.5"/>
<line x1="69.00" y1="375.3" x2="69.00" y2="377.1" stroke="#555" stroke-width="0.6"/>
<text x="69.00" y="382.5" font-family="&quot;Liberation Sans&quot;, sans-serif" font-size="4.4" text-anchor="middle" fill="#444">600</text>
<line x1="72.65" y1="375.3" x2="72.65" y2="376.40000000000003" stroke="#666" stroke-width="0.5"/>
<line x1="76.30" y1="375.3" x2="76.30" y2="376.40000000000003" stroke="#666" stroke-width="0.5"/>
<line x1="79.95" y1="375.3" x2="79.95" y2="376.40000000000003" stroke="#666" stroke-width="0.5"/>
<line x1="83.60" y1="375.3" x2="83.60" y2="377.1" stroke="#555" stroke-width="0.6"/>
<text x="83.60" y="382.5" font-family="&quot;Liberation Sans&quot;, sans-serif" font-size="4.4" text-anchor="middle" fill="#444">800</text>
<line x1="87.25" y1="375.3" x2="87.25" y2="376.40000000000003" stroke="#666" stroke-width="0.5"/>
<line x1="90.90" y1="375.3" x2="90.90" y2="376.40000000000003" stroke="#666" stroke-width="0.5"/>
<line x1="94.55" y1="375.3" x2="94.55" y2="376.40000000000003" stroke="#666" stroke-width="0.5"/>
<line x1="98.20" y1="375.3" x2="98.20" y2="377.1" stroke="#555" stroke-width="0.6"/>
<text x="98.20" y="382.5" font-family="&quot;Liberation Sans&quot;, sans-serif" font-size="4.4" text-anchor="middle" fill="#444">1000</text>
<line x1="197.2" y1="306.2" x2="197.2" y2="375.3" stroke="#8a8a8a" stroke-width="1"/>
<line x1="121.4" y1="306.2" x2="121.4" y2="375.3" stroke="#333" stroke-width="0.9"/>
<line x1="121.4" y1="375.3" x2="197.2" y2="375.3" stroke="#333" stroke-width="0.9"/>
<line x1="119.4" y1="375.30" x2="121.4" y2="375.30" stroke="#555" stroke-width="0.6"/>
<text x="118.80000000000001" y="376.70" font-family="&quot;Liberation Sans&quot;, sans-serif" font-size="4.1" text-anchor="end" fill="#444">0</text>
<line x1="120.2" y1="371.99" x2="121.4" y2="371.99" stroke="#555" stroke-width="0.6"/>
<line x1="120.2" y1="368.68" x2="121.4" y2="368.68" stroke="#555" stroke-width="0.6"/>
<line x1="120.2" y1="365.37" x2="121.4" y2="365.37" stroke="#555" stroke-width="0.6"/>
<line x1="119.4" y1="362.06" x2="121.4" y2="362.06" stroke="#555" stroke-width="0.6"/>
<text x="118.80000000000001" y="363.46" font-family="&quot;Liberation Sans&quot;, sans-serif" font-size="4.1" text-anchor="end" fill="#444">20</text>
<line x1="120.2" y1="358.75" x2="121.4" y2="358.75" stroke="#555" stroke-width="0.6"/>
<line x1="120.2" y1="355.44" x2="121.4" y2="355.44" stroke="#555" stroke-width="0.6"/>
<line x1="120.2" y1="352.13" x2="121.4" y2="352.13" stroke="#555" stroke-width="0.6"/>
<line x1="119.4" y1="348.82" x2="121.4" y2="348.82" stroke="#555" stroke-width="0.6"/>
<text x="118.80000000000001" y="350.22" font-family="&quot;Liberation Sans&quot;, sans-serif" font-size="4.1" text-anchor="end" fill="#444">40</text>
<line x1="120.2" y1="345.51" x2="121.4" y2="345.51" stroke="#555" stroke-width="0.6"/>
<line x1="120.2" y1="342.20" x2="121.4" y2="342.20" stroke="#555" stroke-width="0.6"/>
<line x1="120.2" y1="338.89" x2="121.4" y2="338.89" stroke="#555" stroke-width="0.6"/>
<line x1="119.4" y1="335.58" x2="121.4" y2="335.58" stroke="#555" stroke-width="0.6"/>
<text x="118.80000000000001" y="336.98" font-family="&quot;Liberation Sans&quot;, sans-serif" font-size="4.1" text-anchor="end" fill="#444">60</text>
<line x1="120.2" y1="332.27" x2="121.4" y2="332.27" stroke="#555" stroke-width="0.6"/>
<line x1="120.2" y1="328.96" x2="121.4" y2="328.96" stroke="#555" stroke-width="0.6"/>
<line x1="120.2" y1="325.65" x2="121.4" y2="325.65" stroke="#555" stroke-width="0.6"/>
<line x1="119.4" y1="322.34" x2="121.4" y2="322.34" stroke="#555" stroke-width="0.6"/>
<text x="118.80000000000001" y="323.74" font-family="&quot;Liberation Sans&quot;, sans-serif" font-size="4.1" text-anchor="end" fill="#444">80</text>
<line x1="120.2" y1="319.03" x2="121.4" y2="319.03" stroke="#555" stroke-width="0.6"/>
<line x1="120.2" y1="315.72" x2="121.4" y2="315.72" stroke="#555" stroke-width="0.6"/>
<line x1="120.2" y1="312.41" x2="121.4" y2="312.41" stroke="#555" stroke-width="0.6"/>
<line x1="119.4" y1="309.10" x2="121.4" y2="309.10" stroke="#555" stroke-width="0.6"/>
<text x="118.80000000000001" y="310.50" font-family="&quot;Liberation Sans&quot;, sans-serif" font-size="4.1" text-anchor="end" fill="#444">100</text>
<line x1="121.60" y1="375.3" x2="121.60" y2="377.1" stroke="#555" stroke-width="0.6"/>
<text x="121.60" y="382.5" font-family="&quot;Liberation Sans&quot;, sans-serif" font-size="4.4" text-anchor="middle" fill="#444">0</text>
<line x1="125.32" y1="375.3" x2="125.32" y2="376.40000000000003" stroke="#666" stroke-width="0.5"/>
<line x1="129.05" y1="375.3" x2="129.05" y2="376.40000000000003" stroke="#666" stroke-width="0.5"/>
<line x1="132.78" y1="375.3" x2="132.78" y2="376.40000000000003" stroke="#666" stroke-width="0.5"/>
<line x1="136.50" y1="375.3" x2="136.50" y2="377.1" stroke="#555" stroke-width="0.6"/>
<text x="136.50" y="382.5" font-family="&quot;Liberation Sans&quot;, sans-serif" font-size="4.4" text-anchor="middle" fill="#444">200</text>
<line x1="140.22" y1="375.3" x2="140.22" y2="376.40000000000003" stroke="#666" stroke-width="0.5"/>
<line x1="143.95" y1="375.3" x2="143.95" y2="376.40000000000003" stroke="#666" stroke-width="0.5"/>
<line x1="147.68" y1="375.3" x2="147.68" y2="376.40000000000003" stroke="#666" stroke-width="0.5"/>
<line x1="151.40" y1="375.3" x2="151.40" y2="377.1" stroke="#555" stroke-width="0.6"/>
<text x="151.40" y="382.5" font-family="&quot;Liberation Sans&quot;, sans-serif" font-size="4.4" text-anchor="middle" fill="#444">400</text>
<line x1="155.12" y1="375.3" x2="155.12" y2="376.40000000000003" stroke="#666" stroke-width="0.5"/>
<line x1="158.85" y1="375.3" x2="158.85" y2="376.40000000000003" stroke="#666" stroke-width="0.5"/>
<line x1="162.58" y1="375.3" x2="162.58" y2="376.40000000000003" stroke="#666" stroke-width="0.5"/>
<line x1="166.30" y1="375.3" x2="166.30" y2="377.1" stroke="#555" stroke-width="0.6"/>
<text x="166.30" y="382.5" font-family="&quot;Liberation Sans&quot;, sans-serif" font-size="4.4" text-anchor="middle" fill="#444">600</text>
<line x1="170.03" y1="375.3" x2="170.03" y2="376.40000000000003" stroke="#666" stroke-width="0.5"/>
<line x1="173.75" y1="375.3" x2="173.75" y2="376.40000000000003" stroke="#666" stroke-width="0.5"/>
<line x1="177.47" y1="375.3" x2="177.47" y2="376.40000000000003" stroke="#666" stroke-width="0.5"/>
<line x1="181.20" y1="375.3" x2="181.20" y2="377.1" stroke="#555" stroke-width="0.6"/>
<text x="181.20" y="382.5" font-family="&quot;Liberation Sans&quot;, sans-serif" font-size="4.4" text-anchor="middle" fill="#444">800</text>
<line x1="184.92" y1="375.3" x2="184.92" y2="376.40000000000003" stroke="#666" stroke-width="0.5"/>
<line x1="188.65" y1="375.3" x2="188.65" y2="376.40000000000003" stroke="#666" stroke-width="0.5"/>
<line x1="192.38" y1="375.3" x2="192.38" y2="376.40000000000003" stroke="#666" stroke-width="0.5"/>
<line x1="196.10" y1="375.3" x2="196.10" y2="377.1" stroke="#555" stroke-width="0.6"/>
<text x="196.10" y="382.5" font-family="&quot;Liberation Sans&quot;, sans-serif" font-size="4.4" text-anchor="middle" fill="#444">1000</text>
<path d="M25.5 269.3 L25.8 263.5 L27.0 263.0 L29.9 262.0 L31.5 257.0 L33.0 251.4 L34.9 245.0 L36.0 234.6 L37.2 225.2 L38.4 215.7 L39.5 209.0 L40.4 205.7 L41.3 213.3 L42.5 225.2 L43.5 234.6 L44.3 245.0 L44.9 254.2 L46.8 261.0 L48.7 262.9 L50.7 261.4 L52.6 257.1 L54.5 255.7 L56.4 254.2 L57.9 256.6 L60.3 259.5 L62.2 259.5 L65.1 260.5 L68.9 262.4 L72.8 264.8 L75.7 267.2 L77.6 268.2 L80.0 269.3" fill="none" stroke="#b0b0b0" stroke-width="1.15" stroke-linejoin="round"/>
<path d="M25.5 269.3 L25.6 262.0 L26.4 266.4 L27.5 265.5 L29.4 263.7 L31.2 264.2 L33.0 262.5 L34.3 261.1 L35.6 262.4 L36.5 259.5 L37.5 257.6 L38.5 259.5 L39.5 261.5 L41.3 265.1 L42.0 265.3 L43.9 264.3 L46.3 268.2 L49.7 266.7 L53.5 266.3 L55.5 264.8 L57.4 261.0 L59.3 256.2 L60.8 252.3 L62.2 251.3 L63.6 247.5 L65.1 239.8 L66.5 233.0 L67.7 225.4 L68.7 220.7 L69.8 211.7 L70.8 207.0 L71.9 205.4 L72.9 209.6 L74.0 209.1 L75.0 214.9 L75.6 224.4 L76.6 232.8 L77.2 240.0 L78.1 241.7 L79.0 246.5 L80.0 254.2 L81.4 260.0 L83.3 264.8 L86.2 268.2 L89.1 269.3" fill="none" stroke="#000" stroke-width="1.05" stroke-linejoin="round"/>
<line x1="51.2" y1="251.6" x2="94.1" y2="251.6" stroke="#777" stroke-width="1"/>
<line x1="51.2" y1="250.1" x2="51.2" y2="253.1" stroke="#777" stroke-width="0.8"/>
<line x1="94.1" y1="250.1" x2="94.1" y2="253.1" stroke="#777" stroke-width="0.8"/>
<path d="M122.3 270.0 L130.0 269.5 L137.0 268.8 L140.0 267.5 L142.3 267.0 L144.0 268.0 L146.0 269.0 L150.0 269.5 L154.0 269.0 L157.0 267.5 L160.0 265.0 L162.3 262.0 L165.0 256.5 L167.0 251.9 L169.0 246.0 L170.8 238.0 L172.6 230.2 L174.5 223.0 L176.5 215.0 L178.5 209.0 L179.8 206.8 L181.0 207.5 L182.0 210.5 L183.0 216.0 L184.0 226.0 L185.0 237.0 L186.5 250.0 L188.0 261.0 L189.5 266.5 L191.0 268.5 L193.0 269.8 L195.3 270.2" fill="none" stroke="#b0b0b0" stroke-width="1.15" stroke-linejoin="round"/>
<path d="M122.3 270.0 L130.0 269.5 L137.0 268.5 L140.0 267.0 L142.3 266.3 L144.0 267.5 L146.0 269.0 L150.0 269.8 L152.0 270.0 L155.0 269.5 L158.5 267.9 L161.0 265.5 L164.2 262.3 L166.5 258.0 L168.5 251.9 L170.5 245.0 L172.5 237.0 L174.5 230.2 L176.0 224.0 L177.4 218.9 L178.5 212.0 L179.5 207.5 L180.2 206.6 L181.0 207.0 L182.0 210.5 L183.0 215.0 L183.6 219.0 L184.5 228.0 L185.5 240.0 L186.8 251.9 L188.1 262.0 L189.5 266.5 L190.6 268.0 L192.5 269.5 L195.3 270.2" fill="none" stroke="#000" stroke-width="1.05" stroke-linejoin="round"/>
<line x1="152.5" y1="252.2" x2="194.4" y2="252.2" stroke="#777" stroke-width="1"/>
<line x1="152.5" y1="250.7" x2="152.5" y2="253.7" stroke="#777" stroke-width="0.8"/>
<line x1="194.4" y1="250.7" x2="194.4" y2="253.7" stroke="#777" stroke-width="0.8"/>
<line x1="126.5" y1="212" x2="140" y2="212" stroke="#000" stroke-width="2"/>
<line x1="126.5" y1="224" x2="140" y2="224" stroke="#b0b0b0" stroke-width="1.4"/>
<text x="145.6" y="215.5" font-family="&quot;Liberation Serif&quot;, serif" font-size="9.6">GSI</text>
<text x="145.6" y="227.2" font-family="&quot;Liberation Serif&quot;, serif" font-size="9.6">DMSO</text>
<path d="M50.0 374.9 L51.8 367.3 L53.7 356.1 L55.2 344.9 L56.5 335.6 L58.0 330.0 L59.3 324.5 L60.6 315.2 L61.7 310.5 L63.0 318.9 L64.3 322.6 L65.4 319.8 L66.7 322.6 L68.0 317.0 L69.1 322.6 L70.4 331.9 L72.3 341.2 L74.1 352.4 L76.0 363.5 L77.9 369.1 L80.7 370.0 L83.4 370.0 L85.3 371.9 L87.2 374.9" fill="none" stroke="#b0b0b0" stroke-width="1.15" stroke-linejoin="round"/>
<path d="M41.6 374.9 L44.4 369.1 L46.2 359.8 L47.5 346.8 L48.7 331.9 L49.8 317.0 L50.5 310.5 L51.3 320.7 L52.4 328.2 L53.7 335.6 L55.0 346.8 L56.1 354.2 L58.0 360.7 L60.2 363.5 L63.0 366.3 L65.8 370.0 L69.5 373.2 L73.2 374.9" fill="none" stroke="#000" stroke-width="1.05" stroke-linejoin="round"/>
<path d="M143.9 375.0 L146.7 370.0 L148.6 365.3 L150.4 357.9 L151.9 344.9 L153.2 331.9 L154.2 322.6 L155.6 317.0 L156.9 313.3 L158.2 311.8 L159.7 311.4 L161.6 313.3 L163.4 315.1 L165.3 320.7 L167.2 330.0 L169.0 341.2 L170.9 354.2 L172.7 365.3 L174.6 370.9 L177.4 373.1 L180.2 375.0" fill="none" stroke="#b0b0b0" stroke-width="1.15" stroke-linejoin="round"/>
<path d="M137.4 375.0 L139.3 369.0 L140.8 359.7 L142.1 346.7 L143.4 333.7 L144.5 327.2 L145.8 324.4 L146.7 322.6 L147.6 325.4 L148.6 311.4 L149.5 324.4 L150.4 331.9 L151.4 337.4 L152.3 339.3 L153.2 348.6 L154.2 356.0 L155.1 357.9 L156.4 360.7 L157.9 363.4 L159.7 363.4 L161.6 365.3 L163.4 368.1 L165.3 370.0 L167.2 370.9 L169.0 373.7 L169.9 375.0" fill="none" stroke="#000" stroke-width="1.05" stroke-linejoin="round"/>
</svg>
</body></html>
